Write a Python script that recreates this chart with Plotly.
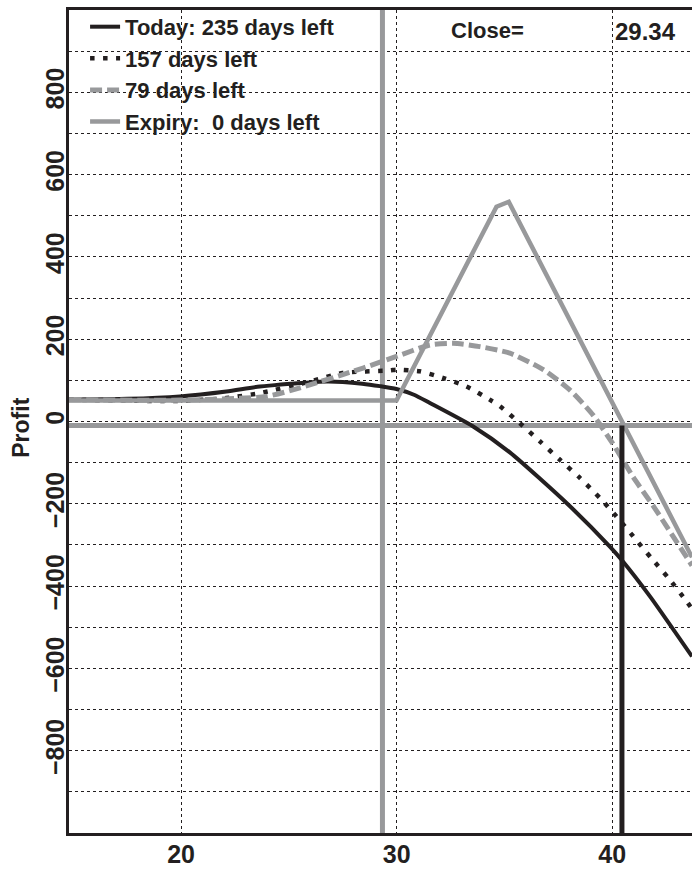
import plotly.graph_objects as go

# ---------------- data ----------------
x_min, x_max = 14.8, 43.7
close_price = 29.34
breakeven_price = 40.45
ref_profit = -10

today_x = [14.8, 17.5, 19.94, 22.1, 23.65, 25.97, 26.74, 27.5, 28.4, 29.22, 29.99, 30.8, 31.54, 33.55, 35.25, 37.88, 39.89, 40.43, 41.75, 43.7]
today_y = [53, 55, 61, 73, 85, 95, 97, 96, 92, 86, 79, 65, 45, -12, -75, -198, -304, -336, -425, -571]

d157_x = [14.8, 19.94, 22.1, 23.65, 25.97, 27.5, 29.68, 29.99, 31.07, 32.14, 33.24, 34.32, 34.79, 35.71, 36.64, 37.57, 38.5, 39.43, 40.2, 40.97, 41.83, 42.6, 43.45, 43.7]
d157_y = [53, 50, 57, 69, 97, 118, 124, 126, 122, 106, 85, 53, 37, -4, -48, -93, -137, -186, -231, -279, -333, -380, -437, -455]

d79_x = [14.8, 19.94, 23.96, 25.97, 27.5, 28.44, 29.99, 31.54, 32.62, 33.86, 35.25, 36.8, 38.03, 39.12, 40.04, 40.97, 41.9, 42.83, 43.7]
d79_y = [53, 52, 61, 89, 114, 130, 158, 186, 190, 182, 166, 126, 77, 15, -55, -135, -205, -280, -350]

exp_x = [14.8, 29.99, 34.63, 35.2, 43.7]
exp_y = [51, 51, 522, 534, -330]

x_ticks = [20, 30, 40]
y_ticks = [-800, -600, -400, -200, 0, 200, 400, 600, 800]
y_range = [-1000, 1000]

series_names = ["Today: 235 days left", "157 days left", "79 days left", "Expiry:  0 days left"]
close_label = "Close="
y_title = "Profit"

# ---------------- style ----------------
BLACK = "#231f20"
GRAY = "#98999b"
FONT = "Liberation Sans, Arial, sans-serif"

fig = go.Figure()

# reference lines
fig.add_trace(go.Scatter(x=[close_price, close_price], y=y_range, mode="lines",
                         line=dict(color=GRAY, width=5), showlegend=False, hoverinfo="skip"))
fig.add_trace(go.Scatter(x=[x_min, x_max], y=[ref_profit, ref_profit], mode="lines",
                         line=dict(color=GRAY, width=5), showlegend=False, hoverinfo="skip"))

fig.add_trace(go.Scatter(x=today_x, y=today_y, mode="lines", name=series_names[0],
                         line=dict(color=BLACK, width=4, shape="spline", smoothing=0.6)))
fig.add_trace(go.Scatter(x=d157_x, y=d157_y, mode="lines", name=series_names[1],
                         line=dict(color=BLACK, width=4.5, dash="4.5px,8.5px", shape="spline", smoothing=0.6)))
fig.add_trace(go.Scatter(x=d79_x, y=d79_y, mode="lines", name=series_names[2],
                         line=dict(color=GRAY, width=5, dash="12px,5px", shape="spline", smoothing=0.6)))
fig.add_trace(go.Scatter(x=exp_x, y=exp_y, mode="lines", name=series_names[3],
                         line=dict(color=GRAY, width=4.5)))

fig.add_trace(go.Scatter(x=[breakeven_price, breakeven_price], y=[ref_profit, y_range[0]], mode="lines",
                         line=dict(color=BLACK, width=5), showlegend=False, hoverinfo="skip"))

fig.add_annotation(x=34.2, xref="x", y=1, yref="paper", yanchor="top", yshift=-6,
                   text=close_label, showarrow=False,
                   font=dict(family=FONT, size=22, color=BLACK, weight="bold"))
fig.add_annotation(x=40, xref="x", y=1, yref="paper", yanchor="top", xanchor="left", xshift=1, yshift=-6,
                   text=f"{close_price:.2f}", showarrow=False,
                   font=dict(family=FONT, size=24, color=BLACK, weight="bold"))
# y-axis title
fig.add_annotation(x=-0.0776, xref="paper", y=0.492, yref="paper", xanchor="center", yanchor="middle",
                   text=y_title, textangle=-90, showarrow=False,
                   font=dict(family=FONT, size=23, color=BLACK, weight="bold"))

grid_kw = dict(gridcolor=BLACK, gridwidth=1, griddash="3px,3px")

fig.update_layout(
    width=692, height=869,
    margin=dict(l=69, r=0, t=10, b=36, autoexpand=False),
    paper_bgcolor="white", plot_bgcolor="white",
    font=dict(family=FONT, color=BLACK),
    legend=dict(x=0.0258, y=1.005, xanchor="left", yanchor="top", bgcolor="rgba(0,0,0,0)",
                font=dict(family=FONT, size=22, color=BLACK, weight="bold"),
                tracegroupgap=0, itemwidth=30),
    xaxis=dict(range=[x_min, x_max], tickvals=x_ticks, showgrid=True, **grid_kw,
               showline=True, linecolor=BLACK, linewidth=3, mirror=True, zeroline=False,
               ticks="", ticklabelstandoff=-3, automargin=False,
               tickfont=dict(family=FONT, size=25, color=BLACK, weight="bold")),
    yaxis=dict(range=y_range, tickvals=y_ticks, showgrid=True, **grid_kw,
               minor=dict(dtick=100, showgrid=True, **grid_kw),
               showline=True, linecolor=BLACK, linewidth=3, zeroline=False,
               ticks="", tickangle=-90, ticklabelstandoff=-8, automargin=False,
               tickfont=dict(family=FONT, size=25, color=BLACK, weight="bold")),
)

fig.write_html("out.html", config={"displayModeBar": False},
               post_script="document.body.style.margin='0';document.body.style.overflow='hidden';")
